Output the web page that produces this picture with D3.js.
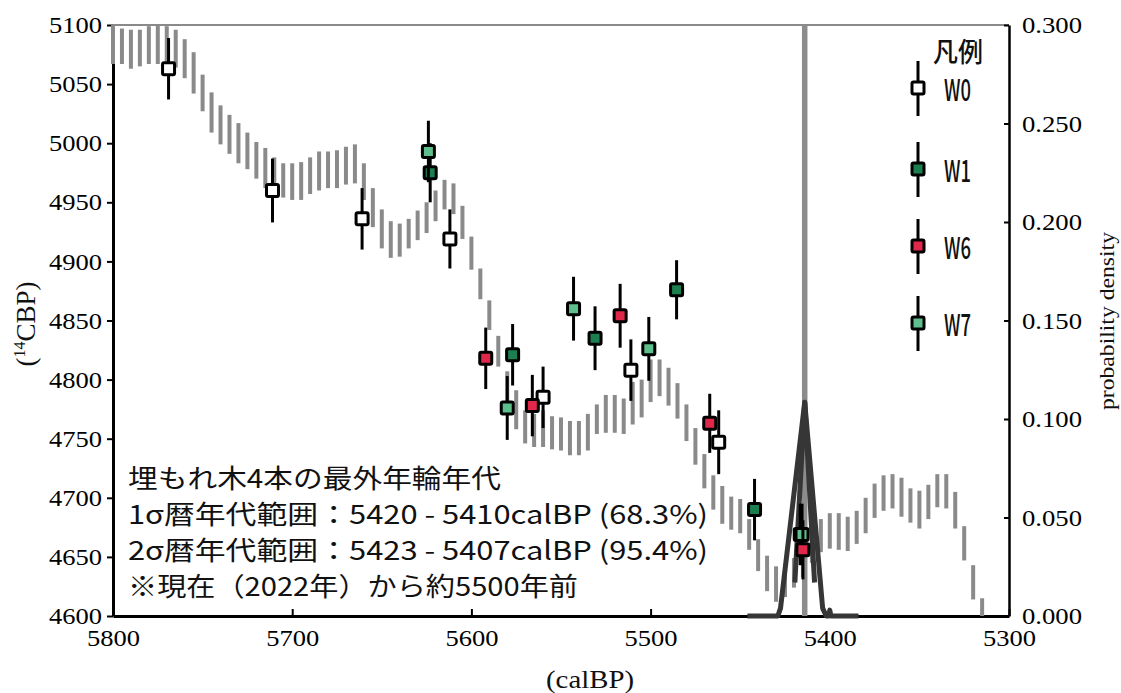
<!DOCTYPE html>
<html><head><meta charset="utf-8">
<script src="https://cdn.jsdelivr.net/npm/d3@7/dist/d3.min.js"></script>
<style>
html,body{margin:0;padding:0;background:#fff;}
svg{display:block;}
.serif{font-family:'Liberation Serif','Times New Roman',serif;}
.goth{font-family:'Noto Sans CJK JP','Noto Sans',sans-serif;}
</style></head>
<body>
<svg id="chart" width="1121" height="693"></svg>
<script>
// ---- calibration curve (IntCal band, 14C BP high / low) ----
const curveYears = [5800,5795,5790,5785,5780,5775,5770,5765,5760,5755,5750,5745,5740,5735,5730,5725,5720,5715,5710,5705,
  5700,5695,5690,5685,5680,5675,5670,5665,5660,5655,5650,5645,5640,5635,5630,5625,5620,5615,5610,5605,
  5600,5595,5590,5585,5580,5575,5570,5565,5560,5555,5550,5545,5540,5535,5530,5525,5520,5515,5510,5505,
  5500,5495,5490,5485,5480,5475,5470,5465,5460,5455,5450,5445,5440,5435,5430,5425,5420,5415,5410,5405,
  5400,5395,5390,5385,5380,5375,5370,5365,5360,5355,5350,5345,5340,5335,5330,5325,5320,5315];
const curveHigh = [5105,5097,5096,5096,5099,5100,5099,5096,5088,5077,5058,5043,5032,5024,5017,5009,5001,4996,4988,4983,
  4983,4984,4988,4993,4993,4994,4997,4999,4983,4962,4944,4934,4932,4936,4943,4950,4960,4969,4966,4947,
  4921,4894,4867,4837,4807,4791,4774,4771,4774,4769,4768,4765,4765,4771,4779,4787,4787,4784,4798,4800,
  4817,4817,4810,4797,4779,4759,4737,4719,4710,4701,4699,4682,4665,4651,4642,4644,4649,4660,4672,4682,
  4687,4687,4684,4689,4700,4712,4719,4720,4717,4708,4706,4711,4720,4720,4705,4676,4643,4615];
const curveLow = [5067,5067,5063,5065,5067,5067,5069,5064,5055,5042,5027,5009,4999,4991,4983,4978,4970,4962,4958,4954,
  4952,4952,4957,4960,4962,4962,4965,4966,4952,4929,4911,4903,4904,4911,4918,4924,4934,4944,4940,4919,
  4893,4868,4842,4811,4781,4758,4746,4743,4743,4741,4740,4736,4736,4740,4754,4755,4755,4754,4762,4768,
  4781,4786,4778,4767,4748,4728,4708,4690,4678,4673,4670,4656,4638,4621,4612,4616,4624,4633,4645,4654,
  4657,4656,4655,4661,4670,4683,4689,4691,4684,4679,4674,4682,4692,4691,4674,4647,4614,4598];

// ---- measured samples (calBP, 14C BP, 1 sigma) ----
const w0Years = [5769,5711,5661,5612,5560,5511,5462,5416.5];
const w0C14   = [5063,4960,4936,4919,4785,4808,4747,4669];
const w0Err   = [26,27,26,25,26,26,27,26];
const w1Years = [5623,5577,5531,5485.5,5442];
const w1C14   = [4975,4821,4835,4876,4690];
const w1Err   = [25,26,27,25,26];
const w6Years = [5592,5566,5517,5467,5415];
const w6C14   = [4818,4778,4854,4763,4656];
const w6Err   = [26,26,27,25,25];
const w7Years = [5624,5580,5543,5501,5415.5];
const w7C14   = [4993,4776,4860,4826,4669];
const w7Err   = [26,27,27,27,26];

// ---- probability density ----
const densYears  = [5446,5429,5427.5,5414,5404,5402,5400.6,5400,5399.4,5384];
const densValues = [0,0,0.004,0.1085,0.004,0,0,0.003,0,0];
const densInnerYears  = [5419.5,5414,5408.5];
const densInnerValues = [0.017,0.1085,0.017];
const medianYear = 5414;

// ---- ticks & labels ----
const xTicks = [5800,5700,5600,5500,5400,5300];
const yLeftTicks = [4600,4650,4700,4750,4800,4850,4900,4950,5000,5050,5100];
const yRightTicks = [0,0.05,0.1,0.15,0.2,0.25,0.3];
const seriesNames = ["W0","W1","W6","W7"];
const seriesColors = ["#ffffff","#1c7f4f","#e0284b","#5fbf8c"];
const legendTitle = "凡例";
const noteLines = ["埋もれ木4本の最外年輪年代",
  "1σ暦年代範囲：5420 - 5410calBP (68.3%)",
  "2σ暦年代範囲：5423 - 5407calBP (95.4%)",
  "※現在（2022年）から約5500年前"];

// ---- drawing ----
const svg = d3.select("#chart");
const L = 113, R = 1009, T = 25, B = 616;
const x = d3.scaleLinear().domain([5800,5300]).range([L,R]);
const yL = d3.scaleLinear().domain([4600,5100]).range([B,T]);
const yR = d3.scaleLinear().domain([0,0.3]).range([B,T]);

svg.append("defs").append("clipPath").attr("id","plot")
  .append("rect").attr("x",L-5).attr("y",T).attr("width",R-L+10).attr("height",B-T);

// top frame
svg.append("line").attr("x1",L).attr("x2",R).attr("y1",T).attr("y2",T)
  .attr("stroke","#8a8a8a").attr("stroke-width",2);

function styleTicks(g, len){
  g.attr("font-family",null);
  g.selectAll("text").attr("class","serif").attr("font-size",24).attr("fill","#000")
    .attr("textLength",len).attr("lengthAdjust","spacingAndGlyphs");
  g.selectAll(".tick line").attr("stroke","#000").attr("stroke-width",2);
}

// left axis
const gL = svg.append("g").attr("transform",`translate(${L},0)`)
  .call(d3.axisLeft(yL).tickValues(yLeftTicks).tickSize(6).tickSizeOuter(0).tickPadding(5).tickFormat(d3.format("d")));
gL.select(".domain").attr("stroke","#000").attr("stroke-width",3);
styleTicks(gL,53);

// right axis
const gR = svg.append("g").attr("transform",`translate(${R},0)`)
  .call(d3.axisRight(yR).tickValues(yRightTicks).tickSize(-5).tickSizeOuter(0).tickPadding(13).tickFormat(d3.format(".3f")));
gR.select(".domain").attr("stroke","#000").attr("stroke-width",2.5);
styleTicks(gR,60);

// bottom axis
const gB = svg.append("g").attr("transform",`translate(0,${B})`)
  .call(d3.axisBottom(x).tickValues(xTicks).tickSize(-7).tickSizeOuter(0).tickPadding(13).tickFormat(d3.format("d")));
gB.select(".domain").attr("stroke","#000").attr("stroke-width",3);
styleTicks(gB,53);

// calibration band bars
const plot = svg.append("g").attr("clip-path","url(#plot)");
plot.selectAll("line.cal").data(curveYears).join("line").attr("class","cal")
  .attr("x1",d=>x(d)).attr("x2",d=>x(d))
  .attr("y1",(d,i)=>yL(curveHigh[i])).attr("y2",(d,i)=>yL(curveLow[i]))
  .attr("stroke","#8a8a8a").attr("stroke-width",4);

// median vertical line
svg.append("line").attr("x1",x(medianYear)).attr("x2",x(medianYear)).attr("y1",T).attr("y2",B)
  .attr("stroke","#8c8c8c").attr("stroke-width",5.5);

// density
const dline = d3.line().x(d=>x(d[0])).y(d=>yR(d[1]));
svg.append("path").datum(densYears.map((d,i)=>[d,densValues[i]]))
  .attr("d",dline).attr("fill","none").attr("stroke","#363636").attr("stroke-width",5).attr("stroke-linejoin","round");
svg.append("path").datum(densInnerYears.map((d,i)=>[d,densInnerValues[i]]))
  .attr("d",dline).attr("fill","none").attr("stroke","#363636").attr("stroke-width",5).attr("stroke-linejoin","round");

// data points
const series = [
  {years:w0Years,c14:w0C14,err:w0Err,color:seriesColors[0]},
  {years:w1Years,c14:w1C14,err:w1Err,color:seriesColors[1]},
  {years:w7Years,c14:w7C14,err:w7Err,color:seriesColors[3]},
  {years:w6Years,c14:w6C14,err:w6Err,color:seriesColors[2]}
];
series.forEach(s=>{
  const g = svg.append("g");
  s.years.forEach((yr,i)=>{
    g.append("line").attr("x1",x(yr)).attr("x2",x(yr))
      .attr("y1",yL(s.c14[i]+s.err[i])).attr("y2",yL(s.c14[i]-s.err[i]))
      .attr("stroke","#000").attr("stroke-width",3);
    g.append("rect").attr("x",x(yr)-6).attr("y",yL(s.c14[i])-6).attr("width",12).attr("height",12)
      .attr("rx",1.5).attr("fill",s.color).attr("stroke","#000").attr("stroke-width",3);
  });
});

// legend
svg.append("text").attr("class","goth").attr("x",958).attr("y",50).attr("text-anchor","middle").attr("dominant-baseline","central")
  .attr("font-size",27).attr("font-weight",500).attr("fill","#111")
  .attr("textLength",50).attr("lengthAdjust","spacingAndGlyphs").text(legendTitle);
const legY = [88,169,246,323];
seriesNames.forEach((n,i)=>{
  const cy = legY[i];
  svg.append("line").attr("x1",918).attr("x2",918).attr("y1",cy-27).attr("y2",cy+28)
    .attr("stroke","#000").attr("stroke-width",3);
  svg.append("rect").attr("x",912).attr("y",cy-6).attr("width",12).attr("height",12).attr("rx",1.5)
    .attr("fill",seriesColors[i]).attr("stroke","#000").attr("stroke-width",3);
  svg.append("text").attr("class","goth").attr("x",944).attr("y",cy).attr("dominant-baseline","central")
    .attr("font-size",30).attr("font-weight",500).attr("fill","#111")
    .attr("textLength",27).attr("lengthAdjust","spacingAndGlyphs").text(n);
});

// annotation
const noteY = [476,512,548,584];
const noteW = [373,580,580,450];
noteLines.forEach((t,i)=>{
  svg.append("text").attr("class","goth").attr("x",128).attr("y",noteY[i]).attr("dominant-baseline","central")
    .attr("font-size",26).attr("fill","#111")
    .attr("textLength",noteW[i]).attr("lengthAdjust","spacingAndGlyphs").text(t);
});

// axis titles
const yt = svg.append("text").attr("class","serif").attr("transform","translate(35,324) rotate(-90)").attr("text-anchor","middle")
  .attr("font-size",27).attr("fill","#111");
yt.append("tspan").text("(");
yt.append("tspan").attr("font-size",16).attr("dy",-10).text("14");
yt.append("tspan").attr("dy",10).text("CBP)");

svg.append("text").attr("class","serif").attr("x",590).attr("y",688).attr("text-anchor","middle")
  .attr("font-size",25).attr("fill","#111")
  .attr("textLength",88).attr("lengthAdjust","spacingAndGlyphs").text("(calBP)");

svg.append("text").attr("class","serif").attr("transform","translate(1114,321) rotate(-90)").attr("text-anchor","middle")
  .attr("font-size",21).attr("fill","#111")
  .attr("textLength",178).attr("lengthAdjust","spacingAndGlyphs").text("probability density");
</script>
</body></html>
